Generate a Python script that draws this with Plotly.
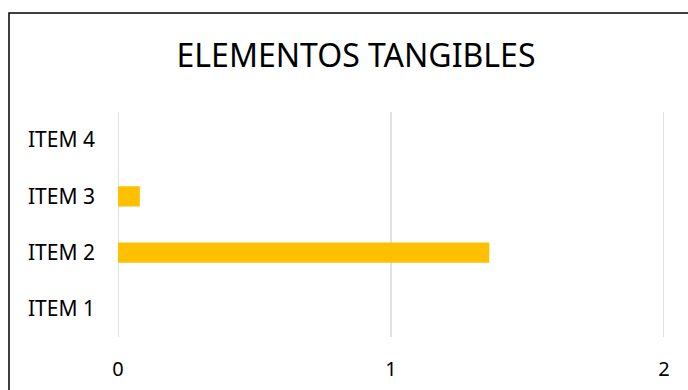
import plotly.graph_objects as go

categories = ["ITEM 1", "ITEM 2", "ITEM 3", "ITEM 4"]
values = [0, 1.36, 0.08, 0]
x_ticks = [0, 1, 2]
title = "ELEMENTOS TANGIBLES"

W, H = 688, 390
ml, mr, mt, mb = 118, 24, 112, 53
pw, ph = W - ml - mr, H - mt - mb

fig = go.Figure(go.Bar(
    y=categories, x=values, orientation="h",
    marker=dict(color="#FFC000", line=dict(width=0)),
))

grid_shapes = [dict(type="line", xref="x", yref="paper", x0=v, x1=v, y0=0, y1=1,
                    line=dict(color="#d9d9d9", width=1.5), layer="below")
               for v in x_ticks]

fig.update_layout(
    width=W, height=H,
    margin=dict(l=ml, r=mr, t=mt, b=mb, pad=0, autoexpand=False),
    paper_bgcolor="white", plot_bgcolor="white",
    bargap=0.64,
    showlegend=False,
    font=dict(family="Noto Sans", color="#000000", size=21),
    title=dict(text=title, x=356 / W, xref="container", xanchor="center",
               y=1 - 56 / H, yref="container", yanchor="middle",
               font=dict(size=32, family="Noto Sans", color="#000000")),
    xaxis=dict(range=[0, 2], tickvals=x_ticks, ticktext=[str(v) for v in x_ticks],
               showgrid=False, zeroline=False, showline=False, ticks="",
               automargin=False,
               ticklabelstandoff=18, tickfont=dict(size=20)),
    yaxis=dict(categoryorder="array", categoryarray=categories,
               showgrid=False, zeroline=False, showline=False, ticks="",
               automargin=False,
               ticklabelstandoff=22, tickfont=dict(size=21)),
    shapes=grid_shapes + [dict(type="rect", xref="paper", yref="paper",
                 x0=(9 - ml) / pw, x1=1.3, y0=-0.5, y1=1 + (mt - 13) / ph,
                 line=dict(color="#000000", width=1.5), fillcolor="rgba(0,0,0,0)",
                 layer="below")],
)

fig.write_html("out.html")
